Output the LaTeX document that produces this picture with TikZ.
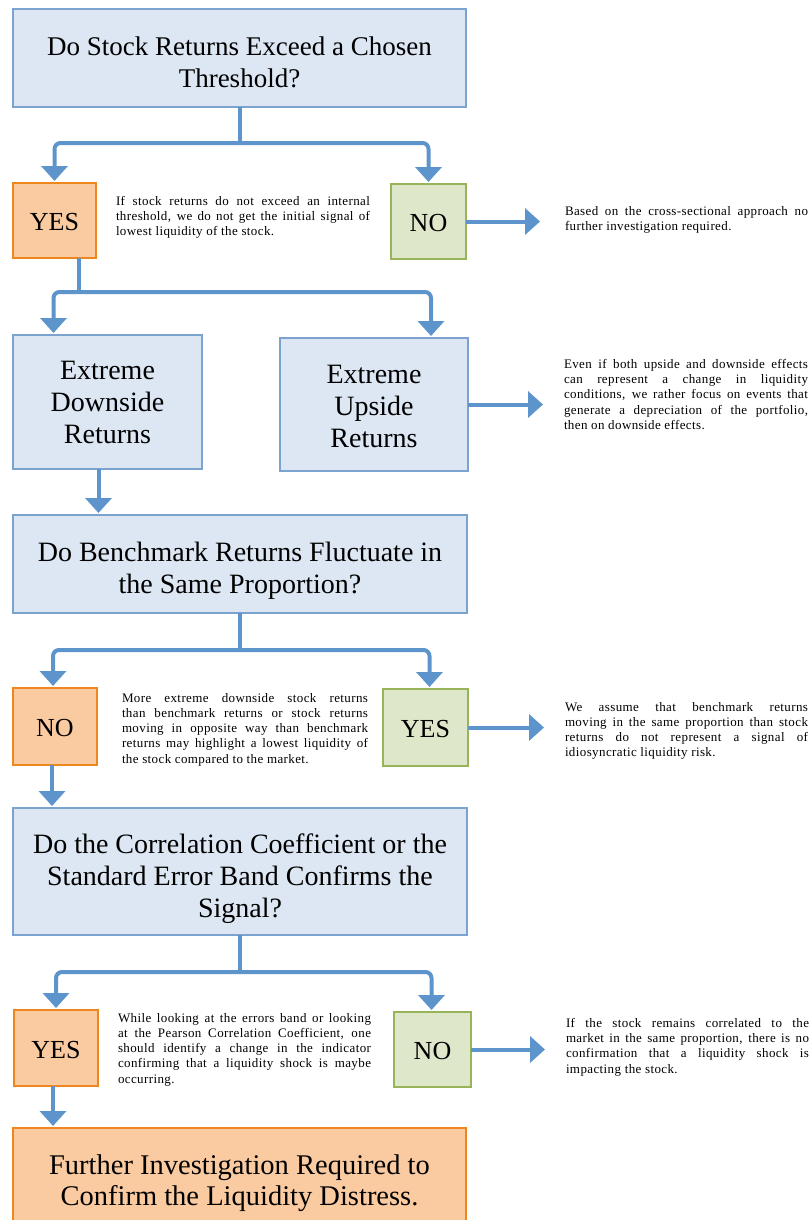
\documentclass[tikz,border=0pt]{standalone}
\usepackage{fontspec}
\setmainfont{Liberation Serif}
\newfontfamily\notefont{Liberation Serif}[LetterSpace=3]
\usetikzlibrary{arrows.meta,calc}
\definecolor{qfill}{RGB}{221,231,243}
\definecolor{qline}{RGB}{124,162,208}
\definecolor{ofill}{RGB}{250,202,160}
\definecolor{oline}{RGB}{237,135,30}
\definecolor{gfill}{RGB}{222,231,201}
\definecolor{gline}{RGB}{152,180,88}
\definecolor{conn}{RGB}{94,148,204}
\tikzset{
  box/.style={line width=1.8pt, anchor=north west, inner sep=0pt, outer sep=0pt, align=center},
  qbox/.style={box, draw=qline, fill=qfill, font=\fontsize{28}{32}\selectfont},
  obox/.style={box, draw=oline, fill=ofill, font=\fontsize{26}{30}\selectfont},
  gbox/.style={box, draw=gline, fill=gfill, font=\fontsize{26}{30}\selectfont},
  note/.style={anchor=north west, inner sep=0pt, outer sep=0pt, align=justify, font=\notefont\fontsize{13}{15.3}\selectfont},
  line/.style={draw=conn, line width=4pt},
  link/.style={line, -{Triangle[width=26pt,length=15pt]}, shorten >=2pt},
  fork/.style={line, rounded corners=6pt, {Triangle[width=26pt,length=15pt]}-{Triangle[width=26pt,length=15pt]}, shorten >=2pt, shorten <=2pt}
}
\begin{document}
\begin{tikzpicture}[x=1pt,y=-1pt]
\fill[white] (0,0) rectangle (811,1220);
\useasboundingbox (0,0) rectangle (811,1220);

% nodes
\node[qbox, font=\fontsize{27}{32}\selectfont, minimum width=453pt, minimum height=98pt] (q1) at (13,9) {\rule{0pt}{27pt}Do Stock Returns Exceed a Chosen\\Threshold?};
\node[obox, minimum width=83pt, minimum height=75pt] (yes1) at (13,183) {\rule{0pt}{21pt}YES};
\node[gbox, minimum width=75pt, minimum height=75pt] (no1) at (391,184) {\rule{0pt}{21pt}NO};
\node[note, text width=254pt] (n1) at (116,196) {If stock returns do not exceed an internal\linebreak threshold, we do not get the initial signal of\linebreak lowest liquidity of the stock.};
\node[note, text width=243pt] (n2) at (565,206) {Based on the cross-sectional approach no\linebreak further investigation required.};

\node[qbox, minimum width=189pt, minimum height=134pt] (down) at (13,335) {Extreme\\Downside\\Returns};
\node[qbox, minimum width=188pt, minimum height=133pt] (up) at (280,338) {\rule{0pt}{22pt}Extreme\\Upside\\Returns};
\node[note, text width=244pt] (n3) at (564,359) {Even if both upside and downside effects\linebreak can represent a change in liquidity\linebreak conditions, we rather focus on events that\linebreak generate a depreciation of the portfolio,\linebreak then on downside effects.};

\node[qbox, minimum width=454pt, minimum height=98pt] (q2) at (13,515) {\rule{0pt}{32pt}Do Benchmark Returns Fluctuate in\\the Same Proportion?};
\node[obox, minimum width=84pt, minimum height=77pt] (no2) at (13,688) {\rule{0pt}{21pt}NO};
\node[gbox, minimum width=85pt, minimum height=77pt] (yes2) at (383,689) {\rule{0pt}{21pt}YES};
\node[note, text width=246pt] (n4) at (122,693) {More extreme downside stock returns\linebreak than benchmark returns or stock returns\linebreak moving in opposite way than benchmark\linebreak returns may highlight a lowest liquidity of\linebreak the stock compared to the market.};
\node[note, text width=243pt] (n5) at (565,702) {We assume that benchmark returns\linebreak moving in the same proportion than stock\linebreak returns do not represent a signal of\linebreak idiosyncratic liquidity risk.};

\node[qbox, minimum width=454pt, minimum height=127pt] (q3) at (13,808) {\rule{0pt}{34pt}Do the Correlation Coefficient or the\\Standard Error Band Confirms the\\Signal?};
\node[obox, minimum width=84pt, minimum height=76pt] (yes3) at (14,1010) {\rule{0pt}{21pt}YES};
\node[gbox, minimum width=77pt, minimum height=75pt] (no3) at (394,1012) {\rule{0pt}{21pt}NO};
\node[note, text width=253pt] (n6) at (118,1013) {While looking at the errors band or looking\linebreak at the Pearson Correlation Coefficient, one\linebreak should identify a change in the indicator\linebreak confirming that a liquidity shock is maybe\linebreak occurring.};
\node[note, text width=243pt] (n7) at (566,1018) {If the stock remains correlated to the\linebreak market in the same proportion, there is no\linebreak confirmation that a liquidity shock is\linebreak impacting the stock.};

\node[obox, font=\fontsize{28.5}{31}\selectfont, minimum width=453pt, minimum height=110pt] (fin) at (13,1128) {Further Investigation Required to\\Confirm the Liquidity Distress.};

% connectors
\coordinate (b1) at ($(q1.south)+(0,36)$);
\draw[line] (q1.south) -- (b1);
\draw[fork] (yes1.north) |- (b1) -| (no1.north);
\draw[link, shorten >=25pt] (no1.east) -- (no1.east -| n2.west);

\coordinate (s2) at ($(yes1.south)+(24,0)$);
\coordinate (b2) at ($(s2)+(0,34)$);
\draw[line] (s2) -- (b2);
\draw[fork] ([xshift=-54pt]down.north) |- (b2) -| ([xshift=57pt]up.north);
\draw[link, shorten >=21pt] (up.east) -- (up.east -| n3.west);
\draw[link] ([xshift=-9pt]down.south) -- ([xshift=-9pt]down.south |- q2.north);

\coordinate (b3) at ($(q2.south)+(0,37)$);
\draw[line] (q2.south) -- (b3);
\draw[fork] ([xshift=-2pt]no2.north) |- (b3) -| ([xshift=4pt]yes2.north);
\draw[link, shorten >=21pt] (yes2.east) -- (yes2.east -| n5.west);
\draw[link] ([xshift=-3pt]no2.south) -- ([xshift=-3pt]no2.south |- q3.north);

\coordinate (b4) at ($(q3.south)+(0,37)$);
\draw[line] (q3.south) -- (b4);
\draw[fork] (yes3.north) |- (b4) -| ([xshift=-1pt]no3.north);
\draw[link, shorten >=21pt] (no3.east) -- (no3.east -| n7.west);
\draw[link] ([xshift=-3pt]yes3.south) -- ([xshift=-3pt]yes3.south |- fin.north);
\end{tikzpicture}
\end{document}
